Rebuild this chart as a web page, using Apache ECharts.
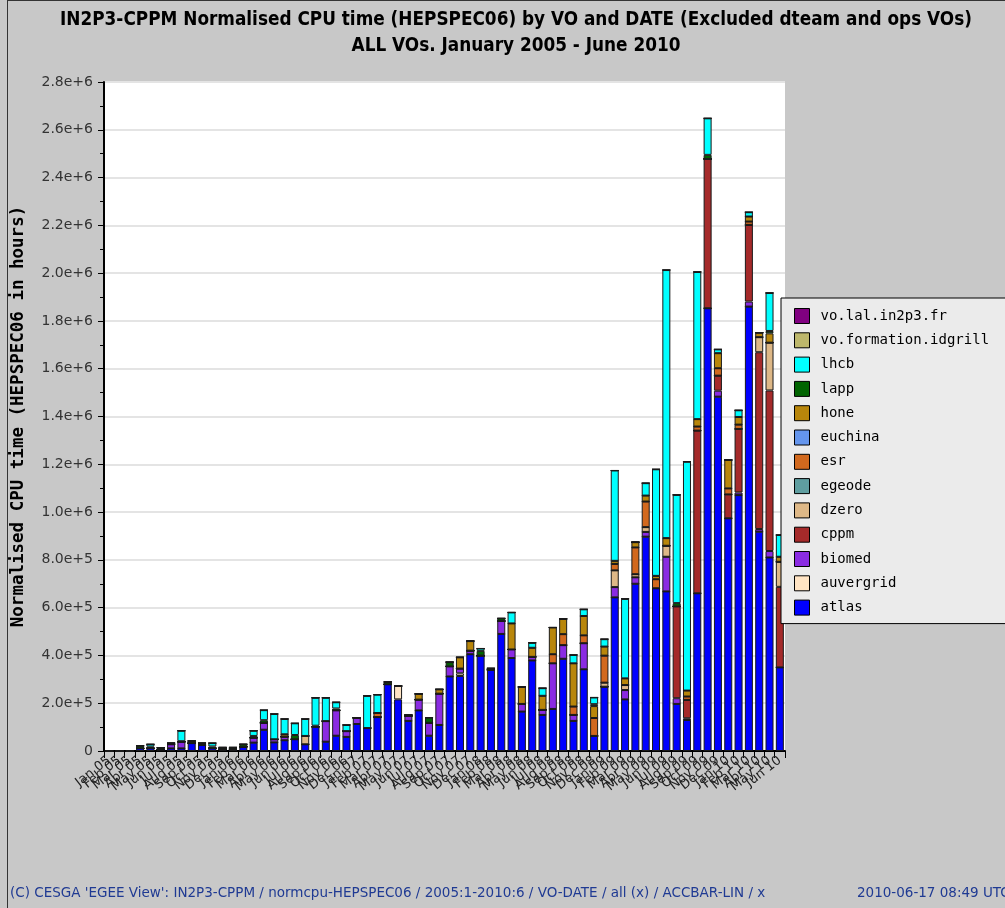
<!DOCTYPE html>
<html><head><meta charset="utf-8">
<script src="https://cdn.jsdelivr.net/npm/echarts@6/dist/echarts.min.js"></script>
<style>html,body{margin:0;padding:0;background:#c8c8c8}#c{width:1005px;height:908px}</style>
</head><body><div id="c"></div><script>
const categories = [
 'Jan 05','Feb 05','Mar 05','Apr 05','May 05','Jun 05','Jul 05','Aug 05','Sep 05','Oct 05','Nov 05','Dec 05',
 'Jan 06','Feb 06','Mar 06','Apr 06','May 06','Jun 06','Jul 06','Aug 06','Sep 06','Oct 06','Nov 06','Dec 06',
 'Jan 07','Feb 07','Mar 07','Apr 07','May 07','Jun 07','Jul 07','Aug 07','Sep 07','Oct 07','Nov 07','Dec 07',
 'Jan 08','Feb 08','Mar 08','Apr 08','May 08','Jun 08','Jul 08','Aug 08','Sep 08','Oct 08','Nov 08','Dec 08',
 'Jan 09','Feb 09','Mar 09','Apr 09','May 09','Jun 09','Jul 09','Aug 09','Sep 09','Oct 09','Nov 09','Dec 09',
 'Jan 10','Feb 10','Mar 10','Apr 10','May 10','Jun 10'];

const atlas = [
 0,0,0,11000,11000,6000,11000,11000,33000,25000,11000,8000,
 8000,18000,35000,89000,36000,45000,49000,28000,102000,39000,64000,59000,
 113000,96000,142000,279000,216000,126000,170000,64000,109000,312000,314000,405000,
 399000,340000,490000,389000,165000,379000,151000,176000,386000,126000,342000,63000,
 269000,643000,216000,700000,897000,681000,668000,197000,130000,660000,1853000,1483000,
 974000,1071000,1860000,918000,810000,350000];
const auvergrid = [
 0,0,0,0,0,0,0,0,0,0,0,0,
 0,0,0,0,0,0,0,0,0,0,0,0,
 0,0,0,0,56000,0,0,0,0,0,11000,0,
 0,0,0,0,0,0,0,0,0,0,0,0,
 0,0,0,0,0,0,0,0,0,0,0,0,
 0,0,0,0,0,0];
const biomed = [
 0,0,0,0,0,0,17000,28000,0,0,0,0,
 0,0,21000,29000,13000,15000,0,0,0,86000,106000,24000,
 26000,0,0,0,0,21000,45000,54000,131000,42000,20000,15000,
 0,0,54000,36000,32000,15000,21000,191000,57000,25000,109000,0,
 0,43000,39000,27000,20000,0,145000,24000,7000,0,0,25000,
 0,11000,21000,11000,27000,0];
const cppm = [
 0,0,0,0,0,0,0,0,0,0,0,0,
 0,0,0,0,0,0,0,0,0,0,0,0,
 0,0,0,0,0,0,0,0,0,0,0,0,
 0,0,0,0,0,0,0,0,0,0,0,0,
 0,0,0,0,0,0,0,384000,77000,681000,625000,63000,
 100000,266000,321000,740000,672000,337000];
const dzero = [
 0,0,0,0,0,0,0,0,0,0,0,0,
 0,0,0,0,0,0,0,35000,0,0,0,0,
 0,0,0,0,0,0,0,0,0,0,0,0,
 0,0,0,0,0,0,0,0,0,0,0,0,
 17000,70000,21000,13000,20000,0,46000,0,0,0,0,0,
 0,0,0,63000,200000,105000];
const egeode = [
 0,0,0,0,0,0,0,0,0,0,0,0,
 0,0,0,0,0,0,0,0,0,0,0,0,
 0,0,0,0,0,0,0,0,0,0,0,0,
 0,0,0,0,0,0,0,0,0,0,0,0,
 0,0,0,0,0,0,0,0,0,0,0,0,
 0,0,0,0,0,0];
const esr = [
 0,0,0,0,0,0,0,0,0,0,0,0,
 0,0,0,0,0,0,0,0,0,0,0,0,
 0,0,17000,0,0,0,0,0,0,0,0,0,
 0,0,0,0,0,0,0,38000,46000,35000,33000,75000,
 113000,27000,0,112000,107000,38000,0,0,14000,17000,0,31000,
 25000,18000,14000,0,0,0];
const euchina = [
 0,0,0,0,0,0,0,0,0,0,0,0,
 0,0,0,0,0,0,0,0,0,0,0,0,
 0,0,0,0,0,0,0,0,0,0,0,0,
 0,0,0,0,0,0,0,0,0,0,0,0,
 0,0,0,0,0,0,0,0,0,0,0,0,
 0,0,0,0,0,0];
const hone = [
 0,0,0,0,0,0,0,0,0,0,0,0,
 0,0,0,0,0,10000,0,0,0,0,0,0,
 0,0,0,0,0,0,24000,0,18000,0,47000,40000,
 0,0,0,109000,71000,38000,59000,112000,64000,181000,81000,50000,
 38000,13000,28000,22000,25000,14000,32000,0,25000,31000,0,63000,
 119000,32000,21000,19000,39000,21000];
const lapp = [
 0,0,0,11000,7000,8000,5000,2000,9000,8000,8000,7000,
 7000,10000,7000,11000,0,0,18000,0,4000,0,8000,0,
 0,0,0,10000,0,4000,0,22000,0,18000,0,0,
 20000,6000,11000,0,0,0,0,0,0,0,0,8000,
 0,0,0,0,0,0,0,14000,0,0,17000,0,
 0,0,0,0,10000,0];
const lhcb = [
 0,0,0,0,10000,0,0,44000,0,0,14000,0,
 0,0,22000,42000,106000,64000,49000,71000,117000,98000,26000,26000,
 0,135000,77000,0,0,0,0,0,0,0,0,0,
 10000,0,0,46000,0,21000,32000,0,0,35000,28000,28000,
 31000,378000,333000,0,52000,446000,1122000,453000,958000,616000,153000,16000,
 0,28000,18000,0,159000,91000];
const voFormation = [
 0,0,0,0,0,0,0,0,0,0,0,0,
 0,0,0,0,0,0,0,0,0,0,0,0,
 0,0,0,0,0,0,0,0,0,0,0,0,
 0,0,0,0,0,0,0,0,0,0,0,0,
 0,0,0,0,0,0,0,0,0,0,0,0,
 0,0,0,0,0,0];
const voLal = [
 0,0,0,0,0,0,0,0,0,0,0,0,
 0,0,0,0,0,0,0,0,0,0,0,0,
 0,0,0,0,0,0,0,0,0,0,0,0,
 0,0,0,0,0,0,0,0,0,0,0,0,
 0,0,0,0,0,0,0,0,0,0,0,0,
 0,0,0,0,0,0];

const seriesNames = ['atlas','auvergrid','biomed','cppm','dzero','egeode','esr','euchina','hone','lapp','lhcb','vo.formation.idgrill','vo.lal.in2p3.fr'];
const seriesData = [atlas,auvergrid,biomed,cppm,dzero,egeode,esr,euchina,hone,lapp,lhcb,voFormation,voLal];
const seriesColors = ['#0000ff','#ffe4c4','#8a2be2','#a52a2a','#deb887','#5f9ea0','#d2691e','#6495ed','#b8860b','#006400','#00ffff','#bdb76b','#800080'];

const titleFont = 'bold 18.8px "Liberation Sans Narrow", "DejaVu Sans Condensed", sans-serif';
const chart = echarts.init(document.getElementById('c'), null, {renderer:'canvas'});
const option = {
  animation:false,
  backgroundColor:'#c8c8c8',
  grid:{left:104,right:220,top:82,bottom:157,show:true,backgroundColor:'#ffffff',borderWidth:0},
  legend:{
    orient:'vertical', left:781, top:298,
    data:seriesNames.slice().reverse(),
    selectedMode:false,
    itemWidth:15, itemHeight:15, itemGap:8.3,
    padding:[10,40,8,13],
    backgroundColor:'#ebebeb', borderColor:'#000', borderWidth:1,
    icon:'rect',
    itemStyle:{borderColor:'#000',borderWidth:1},
    textStyle:{fontFamily:'DejaVu Sans Mono',fontSize:14,color:'#000',padding:[0,0,0,6]}
  },
  xAxis:{
    type:'category', data:categories, boundaryGap:true,
    axisLine:{lineStyle:{color:'#000',width:2}},
    axisTick:{show:true,alignWithLabel:false,interval:0,length:7,lineStyle:{color:'#000',width:1}},
    axisLabel:{interval:0,rotate:38,fontSize:13,fontFamily:'DejaVu Sans',color:'#222',margin:8}
  },
  yAxis:{
    type:'value', min:0, max:2800000, interval:200000,
    name:'Normalised CPU time (HEPSPEC06 in hours)', nameLocation:'middle', nameGap:77,
    nameTextStyle:{fontFamily:'DejaVu Sans Mono',fontWeight:'bold',fontSize:17.5,color:'#000'},
    axisLine:{show:true,lineStyle:{color:'#000',width:2}},
    axisTick:{show:true,length:6,lineStyle:{color:'#000'}},
    minorTick:{show:true,splitNumber:2,length:4,lineStyle:{color:'#000'}},
    axisLabel:{fontFamily:'DejaVu Sans',fontSize:14,color:'#333',margin:11,
      formatter:function(v){return v===0?'0':v.toExponential(1);}},
    splitLine:{show:true,lineStyle:{color:'#e4e4e4',width:2}}
  },
  series:seriesNames.map(function(n,i){return {
    name:n,type:'bar',stack:'vo',data:seriesData[i],barWidth:8,
    itemStyle:{color:seriesColors[i],borderColor:'#1a1a1a',borderWidth:1}
  };}),
  graphic:[
    {type:'line',shape:{x1:7.5,y1:0,x2:7.5,y2:908},style:{stroke:'#333',lineWidth:1}},
    {type:'line',shape:{x1:7,y1:0.5,x2:1005,y2:0.5},style:{stroke:'#333',lineWidth:1}},
    {type:'text',x:516,y:11,style:{text:'IN2P3-CPPM Normalised CPU time (HEPSPEC06) by VO and DATE (Excluded dteam and ops VOs)',font:titleFont,fill:'#000',textAlign:'center'}},
    {type:'text',x:516,y:37,style:{text:'ALL VOs. January 2005 - June 2010',font:titleFont,fill:'#000',textAlign:'center'}},
    {type:'text',left:10,top:886,style:{text:"(C) CESGA 'EGEE View': IN2P3-CPPM / normcpu-HEPSPEC06 / 2005:1-2010:6 / VO-DATE / all (x) / ACCBAR-LIN / x",font:'13.5px "DejaVu Sans", sans-serif',fill:'#1f3a93'}},
    {type:'text',left:857,top:886,style:{text:'2010-06-17 08:49 UTC',font:'13.5px "DejaVu Sans", sans-serif',fill:'#1f3a93'}}
  ]
};
chart.setOption(option);
</script></body></html>
